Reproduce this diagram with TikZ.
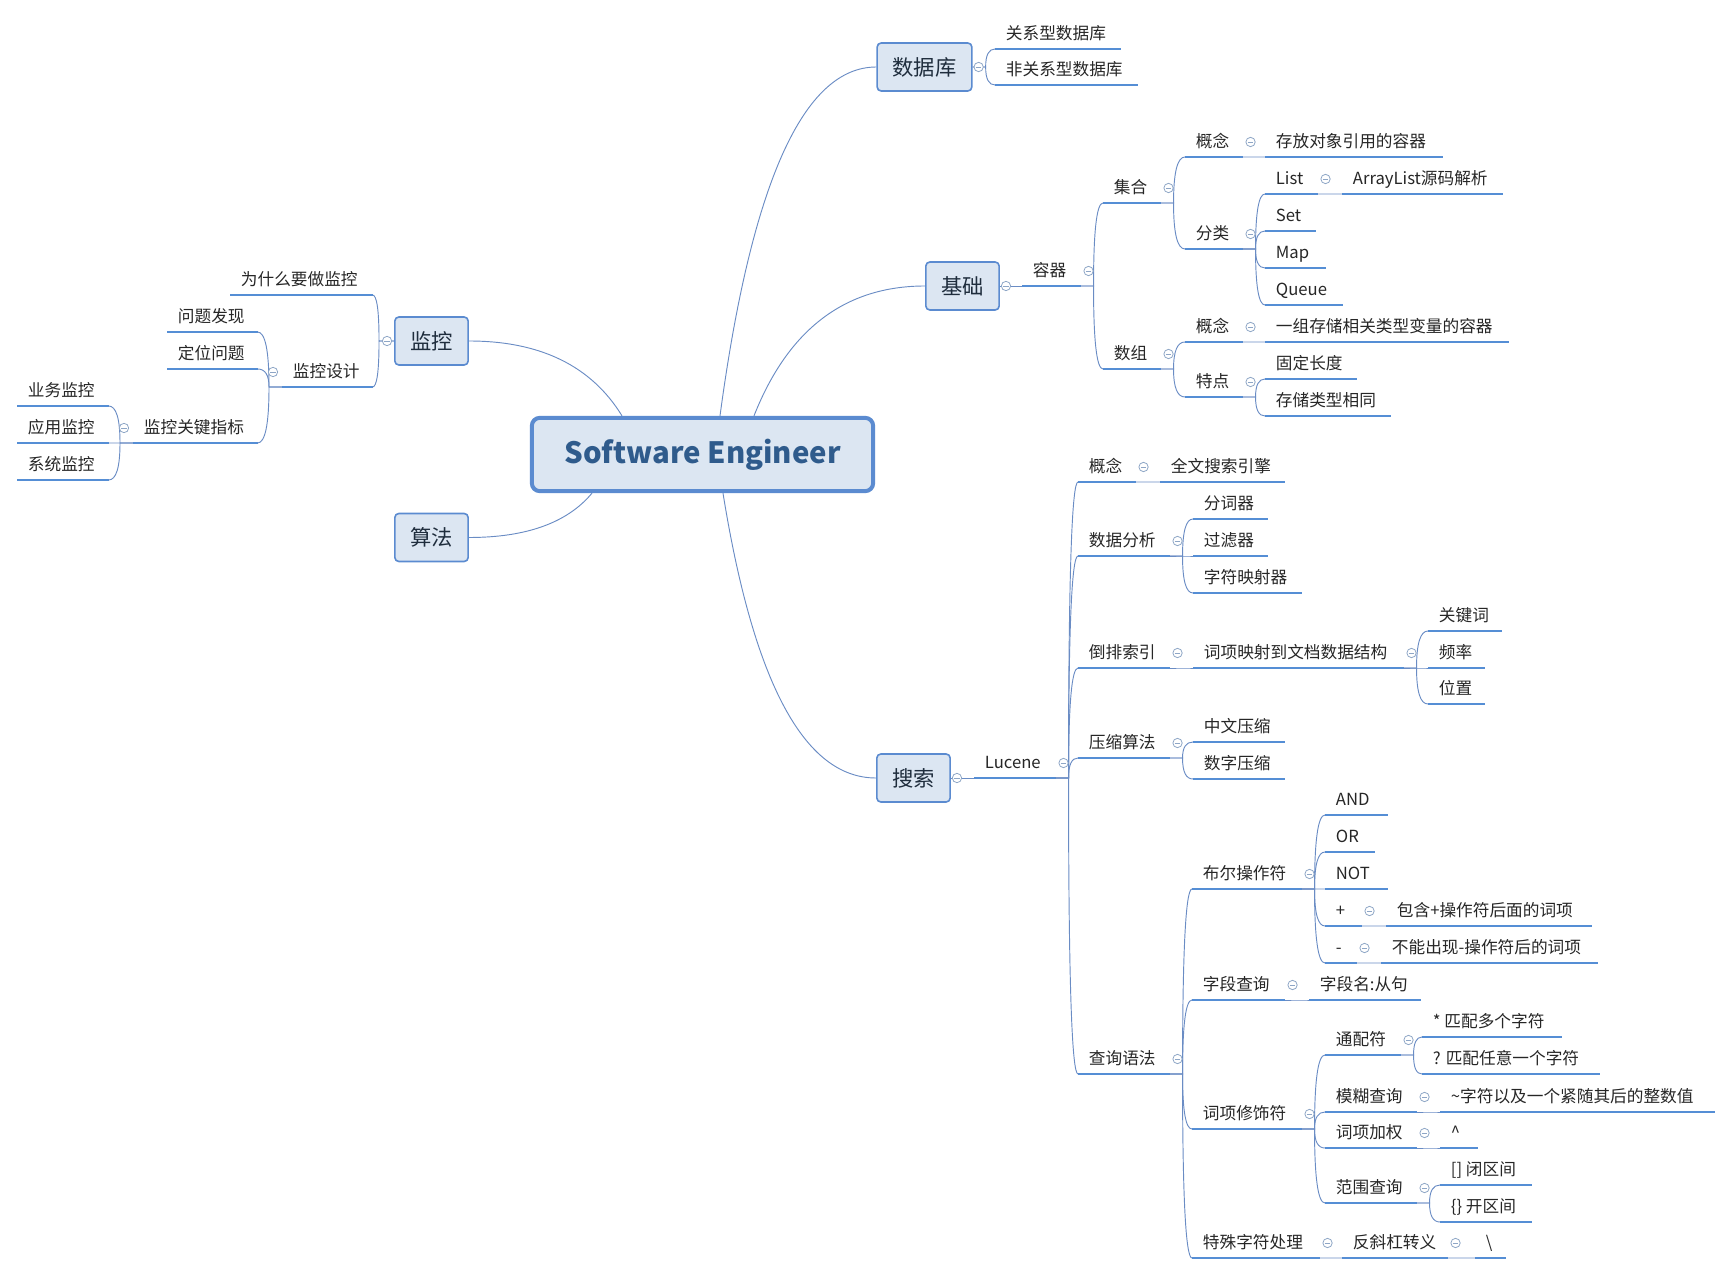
\documentclass[tikz,border=0pt]{standalone}
\usepackage{fontspec}
\setmainfont{Noto Sans CJK SC}
\usetikzlibrary{calc}

\definecolor{lineblue}{HTML}{558ED5}
\definecolor{connblue}{HTML}{6A8CC4}
\definecolor{boxline}{HTML}{5B8BD0}
\definecolor{boxfill}{HTML}{DCE6F2}
\definecolor{boxtext}{HTML}{1F2D3D}
\definecolor{titletext}{HTML}{2F5B8C}
\definecolor{foldc}{HTML}{8EA6C6}

\tikzset{
  topic/.style={anchor=south west, inner xsep=8pt, inner ysep=6pt, text height=0.8em, text depth=0.12em,
    font=\fontsize{12.5}{15}\selectfont, text=black!85},
  uline/.style={draw=lineblue, line width=2.2pt},
  link/.style={draw=connblue, line width=0.7pt},
  fold/.style={circle, draw=foldc, fill=white, line width=0.6pt, minimum size=7pt, inner sep=0pt,
    path picture={\draw[foldc, line width=0.6pt] ([xshift=-2pt]path picture bounding box.center) -- ([xshift=2pt]path picture bounding box.center);}},
  mainbox/.style={draw=boxline, fill=boxfill, rounded corners=3pt, line width=1.2pt, inner sep=0pt,
    minimum width=55pt, minimum height=36pt, font=\fontsize{16}{19}\selectfont, text=boxtext},
  title/.style={draw=boxline, fill=boxfill, rounded corners=6pt, line width=3pt, inner sep=0pt,
    minimum width=256pt, minimum height=55pt, font=\fontsize{22}{26}\selectfont\bfseries, text=titletext},
  branch/.style={to path={.. controls ($(\tikztostart)!0.667!($(\tikztostart|-\tikztotarget)!#1!(\tikztotarget)$)$)
    and ($(\tikztotarget)!0.667!($(\tikztostart|-\tikztotarget)!#1!(\tikztotarget)$)$) .. (\tikztotarget)}},
  branch/.default=0
}

% topic: name, left x, right x, underline y, text
\newcommand\topic[5]{%
  \pgfmathsetlengthmacro\tw{(#3-#2)*0.75pt-16pt}%
  \node[topic] (#1) at (#2,#4) {\makebox[\tw][l]{#5}};
  \draw[uline] (#1.south west) -- (#1.south east);
}
% children to the right / to the left
\newcommand\kids[2]{%
  \coordinate (#1-j) at ([shift={(13,0)}]#1.south east);
  \foreach \c in {#2} \draw[link] (#1.south east) -- (#1-j) to[branch] (\c.south west);
  \node[fold] at ([shift={(8,-15)}]#1.south east) {};
}
\newcommand\lkids[2]{%
  \coordinate (#1-j) at ([shift={(-13,0)}]#1.south west);
  \foreach \c in {#2} \draw[link] (#1.south west) -- (#1-j) to[branch] (\c.south east);
  \node[fold] at ([shift={(-9,-15)}]#1.south west) {};
}

\begin{document}
\begin{tikzpicture}[x=0.75pt, y=-0.75pt]
\useasboundingbox (0,0) rectangle (1732,1276);

% main topics
\node[title] (se) at (702.5,454.5) {Software Engineer};
\node[mainbox, minimum width=71pt] (db) at (924.5,67) {数据库};
\node[mainbox] (base) at (962.5,286) {基础};
\node[mainbox] (mon) at (431.5,341) {监控};
\node[mainbox] (algo) at (431.5,537.5) {算法};
\node[mainbox] (search) at (913.5,778) {搜索};

\coordinate (se-db) at ([shift={(17.5,0)}]se.north);
\coordinate (se-base) at ([shift={(51.5,0)}]se.north);
\coordinate (se-mon) at ([shift={(-80.5,0)}]se.north);
\coordinate (se-algo) at ([shift={(-110.5,0)}]se.south);
\coordinate (se-search) at ([shift={(20.5,0)}]se.south);
\draw[link] (se-db) to[branch=0.3] (db.west);
\draw[link] (se-base) to[branch=0.3] (base.west);
\draw[link] (se-mon) to[branch=0.3] (mon.east);
\draw[link] (se-algo) to[branch=0.3] (algo.east);
\draw[link] (se-search) to[branch=0.3] (search.west);

% 数据库
\topic{db1}{995}{1120}{49}{关系型数据库}
\topic{db2}{995}{1137}{85}{非关系型数据库}
\coordinate (db-j) at ([shift={(13,0)}]db.east);
\foreach \c in {db1,db2} \draw[link] (db.east) -- (db-j) to[branch] (\c.south west);
\node[fold] at ([shift={(6,0)}]db.east) {};

% 基础
\topic{rq}{1022}{1080}{286}{容器}
\topic{jh}{1103}{1160}{203}{集合}
\topic{jhgn}{1185}{1242}{157}{概念}
\topic{jhgnv}{1265}{1442}{157}{存放对象引用的容器}
\topic{fl}{1185}{1242}{249}{分类}
\topic{list}{1265}{1317}{194}{List}
\topic{alist}{1342}{1502}{194}{ArrayList源码解析}
\topic{set}{1265}{1315}{231}{Set}
\topic{map}{1265}{1325}{268}{Map}
\topic{queue}{1265}{1342}{305}{Queue}
\topic{sz}{1103}{1160}{369}{数组}
\topic{szgn}{1185}{1242}{342}{概念}
\topic{szgnv}{1265}{1508}{342}{一组存储相关类型变量的容器}
\topic{td}{1185}{1242}{397}{特点}
\topic{td1}{1265}{1356}{379}{固定长度}
\topic{td2}{1265}{1390}{416}{存储类型相同}
\draw[link] (base.east) -- (rq.south west);
\node[fold] at ([shift={(6,0)}]base.east) {};
\kids{rq}{jh,sz}
\kids{jh}{jhgn,fl}
\kids{jhgn}{jhgnv}
\kids{fl}{list,set,map,queue}
\kids{list}{alist}
\kids{sz}{szgn,td}
\kids{szgn}{szgnv}
\kids{td}{td1,td2}

% 监控
\topic{why}{230}{372}{295}{为什么要做监控}
\topic{design}{282}{372}{387}{监控设计}
\topic{find}{167}{257}{332}{问题发现}
\topic{locate}{167}{257}{369}{定位问题}
\topic{kpi}{133}{257}{443}{监控关键指标}
\topic{biz}{17}{108}{406}{业务监控}
\topic{app}{17}{108}{443}{应用监控}
\topic{sys}{17}{108}{480}{系统监控}
\coordinate (mon-j) at ([shift={(-15,0)}]mon.west);
\foreach \c in {why,design} \draw[link] (mon.west) -- (mon-j) to[branch] (\c.south east);
\node[fold] at ([shift={(-7,0)}]mon.west) {};
\lkids{design}{find,locate,kpi}
\lkids{kpi}{biz,app,sys}

% 搜索
\topic{lucene}{974}{1055}{778}{Lucene}
\topic{gn}{1078}{1135}{482}{概念}
\topic{gnv}{1160}{1284}{482}{全文搜索引擎}
\topic{fx}{1078}{1169}{556}{数据分析}
\topic{fx1}{1193}{1267}{519}{分词器}
\topic{fx2}{1193}{1267}{556}{过滤器}
\topic{fx3}{1193}{1301}{593}{字符映射器}
\topic{dp}{1078}{1169}{668}{倒排索引}
\topic{dpv}{1193}{1403}{668}{词项映射到文档数据结构}
\topic{dp1}{1428}{1501}{631}{关键词}
\topic{dp2}{1428}{1484}{668}{频率}
\topic{dp3}{1428}{1484}{704}{位置}
\topic{ys}{1078}{1169}{758}{压缩算法}
\topic{ys1}{1193}{1284}{742}{中文压缩}
\topic{ys2}{1193}{1284}{779}{数字压缩}
\topic{cx}{1078}{1169}{1074}{查询语法}
\topic{bool}{1192}{1301}{889}{布尔操作符}
\topic{and}{1325}{1387}{815}{AND}
\topic{or}{1325}{1374}{852}{OR}
\topic{not}{1325}{1387}{889}{NOT}
\topic{plus}{1325}{1361}{926}{+}
\topic{plusv}{1386}{1591}{926}{包含+操作符后面的词项}
\topic{minus}{1325}{1356}{963}{-}
\topic{minusv}{1381}{1597}{963}{不能出现-操作符后的词项}
\topic{field}{1192}{1284}{1000}{字段查询}
\topic{fieldv}{1309}{1420}{1000}{字段名:从句}
\topic{mod}{1192}{1301}{1129}{词项修饰符}
\topic{wild}{1325}{1400}{1055}{通配符}
\topic{wild1}{1422}{1561}{1037}{* 匹配多个字符}
\topic{wild2}{1422}{1599}{1074}{? 匹配任意一个字符}
\topic{fuzzy}{1325}{1416}{1112}{模糊查询}
\topic{fuzzyv}{1440}{1714}{1112}{\string~字符以及一个紧随其后的整数值}
\topic{boost}{1325}{1416}{1148}{词项加权}
\topic{boostv}{1440}{1477}{1148}{\string^}
\topic{range}{1325}{1416}{1203}{范围查询}
\topic{range1}{1440}{1531}{1185}{[] 闭区间}
\topic{range2}{1440}{1531}{1222}{\{\} 开区间}
\topic{spec}{1192}{1319}{1258}{特殊字符处理}
\topic{specv}{1342}{1447}{1258}{反斜杠转义}
\topic{bs}{1475}{1505}{1258}{\textbackslash}
\draw[link] (search.east) -- (lucene.south west);
\node[fold] at ([shift={(6,0)}]search.east) {};
\kids{lucene}{gn,fx,dp,ys,cx}
\kids{gn}{gnv}
\kids{fx}{fx1,fx2,fx3}
\kids{dp}{dpv}
\kids{dpv}{dp1,dp2,dp3}
\kids{ys}{ys1,ys2}
\kids{cx}{bool,field,mod,spec}
\kids{bool}{and,or,not,plus,minus}
\kids{plus}{plusv}
\kids{minus}{minusv}
\kids{field}{fieldv}
\kids{mod}{wild,fuzzy,boost,range}
\kids{wild}{wild1,wild2}
\kids{fuzzy}{fuzzyv}
\kids{boost}{boostv}
\kids{range}{range1,range2}
\kids{spec}{specv}
\kids{specv}{bs}
\end{tikzpicture}
\end{document}
